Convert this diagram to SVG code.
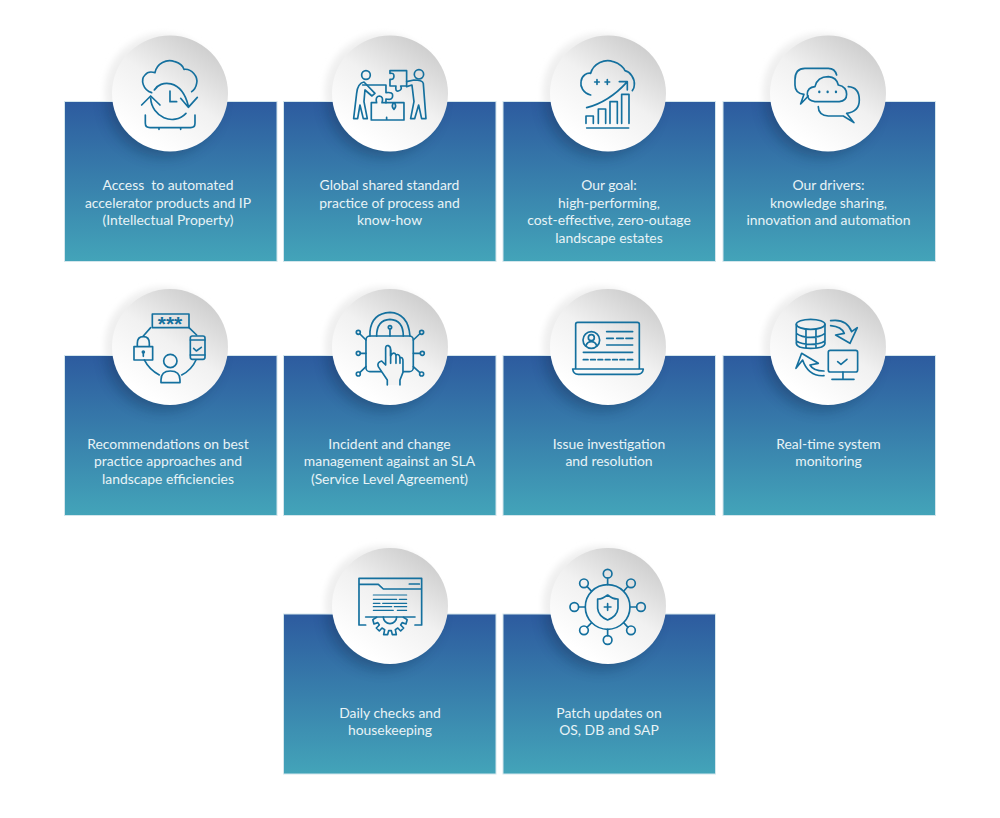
<svg xmlns="http://www.w3.org/2000/svg" width="1000" height="818" viewBox="0 0 1000 818">
<style>
.card{fill:url(#cardGrad);stroke:#d3e6ec;stroke-width:1}
.disc{fill:url(#discGrad)}
.halo{fill:#efefef;filter:url(#soft2)}
.shadow{fill:#0b2a4a;opacity:.34;filter:url(#soft)}
.ic{fill:none;stroke:#14709e;stroke-width:5;stroke-linecap:round;stroke-linejoin:round}
.ic .w{fill:#f4f4f4}
.ic .t{stroke-width:3.6}
.lbl{font-family:Lato,"Open Sans",sans-serif;font-size:13.9px;fill:#e8f3f6;text-anchor:middle;white-space:pre}
.stars{font-family:"Liberation Sans",sans-serif;font-weight:700;font-size:21px;fill:#14709e;text-anchor:middle}
</style>
<defs>
<linearGradient id="cardGrad" x1="0" y1="0" x2="0" y2="1"><stop offset="0" stop-color="#2d5b9f"/><stop offset="1" stop-color="#43a4b9"/></linearGradient>
<linearGradient id="discGrad" x1=".82" y1=".08" x2=".28" y2=".9"><stop offset="0" stop-color="#cdcdcd"/><stop offset=".5" stop-color="#f1f1f1"/><stop offset="1" stop-color="#ffffff"/></linearGradient>
<filter id="soft" x="-40%" y="-40%" width="180%" height="180%"><feGaussianBlur stdDeviation="7"/></filter>
<filter id="soft2" x="-20%" y="-20%" width="140%" height="140%"><feGaussianBlur stdDeviation="3"/></filter>
<clipPath id="cards"><rect x="64" y="102" width="872" height="159"/><rect x="64" y="356" width="872" height="159"/><rect x="283" y="615" width="433" height="158"/></clipPath>
<circle id="halo" class="halo" cx="-7" cy="-2" r="58"/>
<circle id="shadow" class="shadow" cx="-7" cy="7" r="56"/>
<circle id="disc" class="disc" r="58"/>
</defs>
<g id="node-1"><use href="#halo" x="170" y="93.500"/><rect class="card" x="64.500" y="101.500" width="212.500" height="160"/><g clip-path="url(#cards)"><use href="#shadow" x="170" y="93.500"/></g><use href="#disc" x="170" y="93.500"/>
<g class="ic" transform="translate(60,30) scale(.3333)">
<path d="M275,188C250,180 240,150 255,135C262,125 275,125 285,128C290,100 320,85 345,95C360,100 370,110 372,118C395,115 415,140 410,160C408,172 402,180 395,185"/>
<path d="M283,180C300,150 365,145 385,228M362,205L385,232L412,202M245,225L272,198L300,225M272,205C275,260 340,290 378,250M330,183V215H350"/>
<path d="M256,255V280Q256,293 270,293H392Q405,293 405,280V255M297,293V298M362,293V298"/>
</g>
<text class="lbl"><tspan x="168" y="190">Access  to automated</tspan><tspan x="168" y="207.500">accelerator products and IP</tspan><tspan x="168" y="225">(Intellectual Property)</tspan></text></g>
<g id="node-2"><use href="#halo" x="390" y="93.500"/><rect class="card" x="283.500" y="101.500" width="212.500" height="160"/><g clip-path="url(#cards)"><use href="#shadow" x="390" y="93.500"/></g><use href="#disc" x="390" y="93.500"/>
<g class="ic" transform="translate(60,30) scale(.3333)">
<circle cx="918" cy="135" r="13"/><circle cx="1077" cy="133" r="14"/>
<path d="M908,165H978V188Q1000,185 998,198Q998,212 978,207V218"/>
<path d="M990,122H1040V168H1022Q1028,180 1015,183Q1005,185 1008,168H990V148Q1002,150 1002,138Q1002,128 990,130Z"/>
<path d="M934,270V218H950Q945,200 958,198Q972,200 966,218H1032V270ZM980,262V270M1002,218Q992,228 1002,238Q1012,228 1002,218"/>
<path d="M881,266L890,190Q893,160 912,156L945,190L936,198L915,180L912,215L922,266L910,266L900,225L893,266Z"/>
<path d="M1040,155L1062,150Q1088,150 1090,160L1098,266H1085L1076,225L1064,266H1052L1062,215L1056,165L1040,170"/>
</g>
<text class="lbl"><tspan x="389.500" y="190">Global shared standard</tspan><tspan x="389.500" y="207.500">practice of process and</tspan><tspan x="389.500" y="225">know-how</tspan></text></g>
<g id="node-3"><use href="#halo" x="608" y="93.500"/><rect class="card" x="503" y="101.500" width="212.500" height="160"/><g clip-path="url(#cards)"><use href="#shadow" x="608" y="93.500"/></g><use href="#disc" x="608" y="93.500"/>
<g class="ic" transform="translate(500,30) scale(.3333)">
<path d="M272,195C250,190 240,170 243,155C245,135 262,128 272,130C280,100 315,85 340,95C360,100 372,115 375,122C390,125 405,145 403,165Q403,175 397,182"/>
<path d="M284,156H298M291,149V163M315,156H329M322,149V163"/>
<path d="M260,233C310,220 350,190 380,157M358,155H382V180"/>
<path d="M258,280V258H280V280M295,280V237H317V280M330,280V215H352V280M365,280V193H387V280M260,294H386"/>
</g>
<text class="lbl"><tspan x="609" y="190">Our goal:</tspan><tspan x="609" y="207.500">high-performing,</tspan><tspan x="609" y="225">cost-effective, zero-outage</tspan><tspan x="609" y="242.500">landscape estates</tspan></text></g>
<g id="node-4"><use href="#halo" x="828" y="93.500"/><rect class="card" x="723" y="101.500" width="212.500" height="160"/><g clip-path="url(#cards)"><use href="#shadow" x="828" y="93.500"/></g><use href="#disc" x="828" y="93.500"/>
<g class="ic" transform="translate(500,30) scale(.3333)">
<path d="M1010,135Q1005,115 985,115H915Q885,115 885,150V165Q885,190 912,193L902,222L925,198"/>
<path d="M945,215Q922,212 922,193Q922,172 945,170Q952,140 985,140Q1010,142 1015,165Q1040,170 1040,193Q1040,213 1018,215Z"/>
<path d="M958,185V186M983,185V186M1008,185V186" style="stroke-width:7"/>
<path d="M1045,170Q1078,172 1078,210Q1078,245 1040,250L1062,278L1030,258H985Q955,255 955,230"/>
</g>
<text class="lbl"><tspan x="828.500" y="190">Our drivers:</tspan><tspan x="828.500" y="207.500">knowledge sharing,</tspan><tspan x="828.500" y="225">innovation and automation</tspan></text></g>
<g id="node-5"><use href="#halo" x="170" y="347"/><rect class="card" x="64.500" y="355.500" width="212.500" height="160"/><g clip-path="url(#cards)"><use href="#shadow" x="170" y="347"/></g><use href="#disc" x="170" y="347"/>
<g class="ic" transform="translate(60,285) scale(.3333)">
<rect x="277" y="87" width="110" height="41"/>
<path d="M272,128L250,153M387,128L410,150M253,225Q268,255 298,270M408,225Q395,255 365,270"/>
<path d="M232,185V175Q232,155 250,155Q268,155 268,175V185M222,185H278V225H222ZM250,204V214"/><circle cx="250" cy="201" r="3"/>
<rect x="391" y="153" width="44" height="70" rx="6"/><path d="M391,165H435M391,210H435M401,190L409,198L424,187"/>
<circle cx="331" cy="228" r="20"/><path d="M303,293V285Q303,258 331,258Q360,258 360,285V293Z"/>
</g>
<text class="stars" x="170" y="331">***</text>
<text class="lbl"><tspan x="168" y="448.500">Recommendations on best</tspan><tspan x="168" y="466">practice approaches and</tspan><tspan x="168" y="483.500">landscape efficiencies</tspan></text></g>
<g id="node-6"><use href="#halo" x="390" y="347"/><rect class="card" x="283.500" y="355.500" width="212.500" height="160"/><g clip-path="url(#cards)"><use href="#shadow" x="390" y="347"/></g><use href="#disc" x="390" y="347"/>
<g class="ic" transform="translate(60,285) scale(.3333)">
<path d="M930,153V140Q935,85 990,82Q1045,85 1050,153M950,153Q950,105 990,103Q1030,105 1030,153M990,133V153"/><circle cx="990" cy="127" r="5"/>
<rect x="918" y="153" width="142" height="107" rx="12"/>
<path class="w" d="M982,300V285L955,245Q950,232 965,228L977,240V190Q977,180 985,182Q992,184 992,195V212Q1002,198 1008,210Q1018,205 1020,218Q1030,215 1029,230V262L1020,285V300"/>
<path d="M992,195V235M1008,210V235M1020,218V235"/>
<path d="M900,147L918,165M901,205H918M900,262L918,245M1079,147L1060,165M1081,205H1060M1079,262L1060,245"/>
<circle cx="895" cy="142" r="6"/><circle cx="895" cy="205" r="6"/><circle cx="895" cy="267" r="6"/><circle cx="1085" cy="142" r="6"/><circle cx="1087" cy="205" r="6"/><circle cx="1085" cy="267" r="6"/>
</g>
<text class="lbl"><tspan x="389.500" y="448.500">Incident and change</tspan><tspan x="389.500" y="466">management against an SLA</tspan><tspan x="389.500" y="483.500">(Service Level Agreement)</tspan></text></g>
<g id="node-7"><use href="#halo" x="608" y="347"/><rect class="card" x="503" y="355.500" width="212.500" height="160"/><g clip-path="url(#cards)"><use href="#shadow" x="608" y="347"/></g><use href="#disc" x="608" y="347"/>
<g class="ic" transform="translate(500,285) scale(.3333)">
<path d="M227,250V118Q227,112 233,112H412Q418,112 418,118V250M218,252H430Q428,268 412,268H235Q220,268 218,252Z"/>
<circle cx="274" cy="165" r="25"/><circle cx="274" cy="158" r="9"/><path d="M258,182Q262,170 274,170Q286,170 290,182"/>
<path d="M320,140H398M320,160H340M350,160H370M378,160H398M320,180H398M250,202H398M250,224H264M272,224H286M294,224H308M316,224H330M338,224H352M360,224H374M382,224H398"/>
</g>
<text class="lbl"><tspan x="609" y="448.500">Issue investigation</tspan><tspan x="609" y="466">and resolution</tspan></text></g>
<g id="node-8"><use href="#halo" x="828" y="347"/><rect class="card" x="723" y="355.500" width="212.500" height="160"/><g clip-path="url(#cards)"><use href="#shadow" x="828" y="347"/></g><use href="#disc" x="828" y="347"/>
<g class="ic" transform="translate(500,285) scale(.3333)">
<ellipse cx="932" cy="118" rx="43" ry="15"/>
<path d="M889,118V175Q889,190 932,190Q975,190 975,175V118M889,145Q905,157 932,157Q960,157 975,145M889,168Q905,178 932,178Q960,178 975,168M918,132V188M948,132V188"/>
<path d="M992,107Q1040,100 1055,140L1072,128L1050,175L1007,150L1033,145Q1025,125 992,122"/>
<path d="M972,272Q925,275 908,225L888,250L905,205L955,235L930,240Q940,258 972,258"/>
<rect x="985" y="196" width="88" height="65" rx="6"/><path d="M1013,230L1023,238L1041,223M1029,261V280M996,283H1062"/>
</g>
<text class="lbl"><tspan x="828.500" y="448.500">Real-time system</tspan><tspan x="828.500" y="466">monitoring</tspan></text></g>
<g id="node-9"><use href="#halo" x="390" y="606"/><rect class="card" x="283.500" y="614" width="212.500" height="160"/><g clip-path="url(#cards)"><use href="#shadow" x="390" y="606"/></g><use href="#disc" x="390" y="606"/>
<g class="ic" transform="translate(280,540) scale(.3333)">
<path d="M257,255H237V115H425V255H405M237,133H295L310,147H425M388,132H418"/>
<path d="M280,165H380M280,178H350M358,178H380M280,190H300M308,190H380M280,200H335M343,200H380M280,211H340M352,211H380" class="t"/>
<path d="M257,231H405"/>
<path d="M370,232L381.500,239L378,252L366.500,248L362,255L371,264L362,273L353.500,264L346,269L349,284L337,284L334,272L326,272L323,284L311,284L314,269L306,264L298,273L289,264L298,255L293.500,248L282,252L278.500,239L290,232"/>
<path d="M310,231A20,20 0 0 0 350,231"/>
</g>
<text class="lbl"><tspan x="390" y="717.700">Daily checks and</tspan><tspan x="390" y="735.300">housekeeping</tspan></text></g>
<g id="node-10"><use href="#halo" x="608" y="606"/><rect class="card" x="503" y="614" width="212.500" height="160"/><g clip-path="url(#cards)"><use href="#shadow" x="608" y="606"/></g><use href="#disc" x="608" y="606"/>
<g class="ic" transform="translate(280,540) scale(.3333)">
<circle cx="983" cy="201" r="67"/>
<path d="M983,165Q965,178 953,177V205Q955,228 983,240Q1012,228 1014,205V177Q1000,178 983,165ZM973,201H993M983,191V211"/>
<circle cx="983" cy="101" r="13"/><circle cx="1053" cy="130" r="13"/><circle cx="1083" cy="201" r="13"/><circle cx="1053" cy="271" r="13"/><circle cx="983" cy="300" r="13"/><circle cx="912" cy="271" r="13"/><circle cx="883" cy="201" r="13"/><circle cx="912" cy="130" r="13"/>
<path d="M983,114V134M1044,139L1031,154M1070,201H1050M1044,262L1031,248M983,287V268M921,262L935,248M896,201H916M921,139L935,154"/>
</g>
<text class="lbl"><tspan x="609" y="717.700">Patch updates on</tspan><tspan x="609" y="735.300">OS, DB and SAP</tspan></text></g>
</svg>
